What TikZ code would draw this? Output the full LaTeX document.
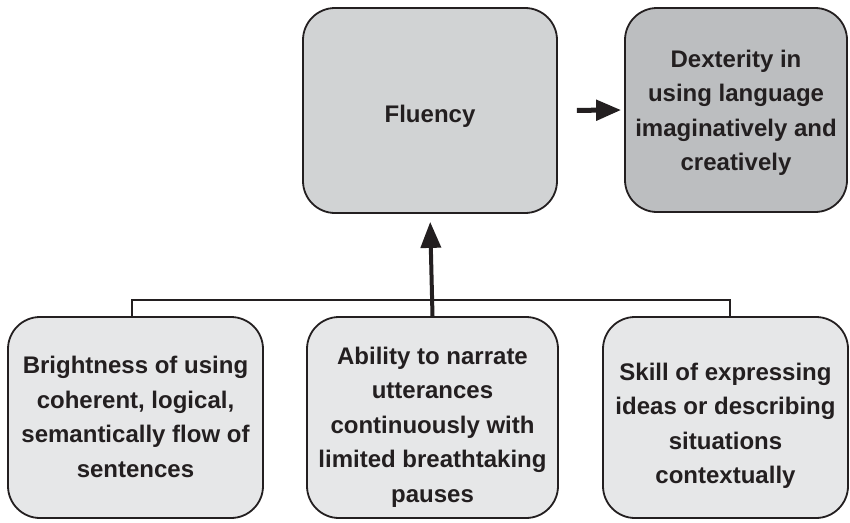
\documentclass[tikz,border=0pt]{standalone}
\usepackage{fontspec}
\setmainfont{Liberation Sans}
\usetikzlibrary{arrows.meta}
\definecolor{inkc}{HTML}{231F20}
\definecolor{fluencyfill}{HTML}{D1D3D4}
\definecolor{dextfill}{HTML}{BCBEC0}
\definecolor{lowfill}{HTML}{E6E7E8}
\tikzset{
  boxnode/.style={draw=inkc, line width=1.8pt, rounded corners=32pt, inner sep=0pt},
  txtnode/.style={text=inkc, align=center, font=\fontsize{24}{34.5}\selectfont\bfseries, inner sep=0pt},
  linkline/.style={draw=inkc, line width=2pt},
  bigarrow/.style={draw=inkc, line width=4pt, -{Triangle[length=26pt,width=20pt]}},
}
\begin{document}
\begin{tikzpicture}[x=1pt,y=-1pt]
\useasboundingbox (0,0) rectangle (850,522);
% top boxes
\node[boxnode, fill=fluencyfill, minimum width=254pt, minimum height=205pt] (fluency) at (430,110.5) {};
\node[txtnode] at (430,116) {Fluency};
\node[boxnode, fill=dextfill, minimum width=222pt, minimum height=204pt] (dext) at (736,110) {};
\node[txtnode] at (736,113) {Dexterity in\\using language\\imaginatively and\\creatively};
% bottom boxes
\node[boxnode, fill=lowfill, minimum width=255pt, minimum height=201pt] (b1) at (135.5,417.5) {};
\node[txtnode] at (135.5,417) {Brightness of using\\coherent, logical,\\semantically flow of\\sentences};
\node[boxnode, fill=lowfill, minimum width=251pt, minimum height=201pt] (b2) at (432.5,417.5) {};
\node[txtnode] at (432.5,427) {Ability to narrate\\utterances\\continuously with\\limited breathtaking\\pauses};
\node[boxnode, fill=lowfill, minimum width=245pt, minimum height=201pt] (b3) at (725.5,417.5) {};
\node[txtnode] at (725.5,426) {Skill of expressing\\ideas or describing\\situations\\contextually};
% connectors
\coordinate (jl) at (132,300);
\coordinate (jr) at (729.5,300);
\draw[linkline] ([xshift=-3.5pt]b1.north) -- (jl) -- (jr) -- ([xshift=4pt]b3.north);
\draw[bigarrow, shorten >=8pt] (b2.north) -- (fluency.south);
\draw[bigarrow, line width=5pt, -{Triangle[length=25pt,width=20pt]}, shorten <=19pt, shorten >=3pt] (fluency.east) -- (dext.west);
\end{tikzpicture}
\end{document}
